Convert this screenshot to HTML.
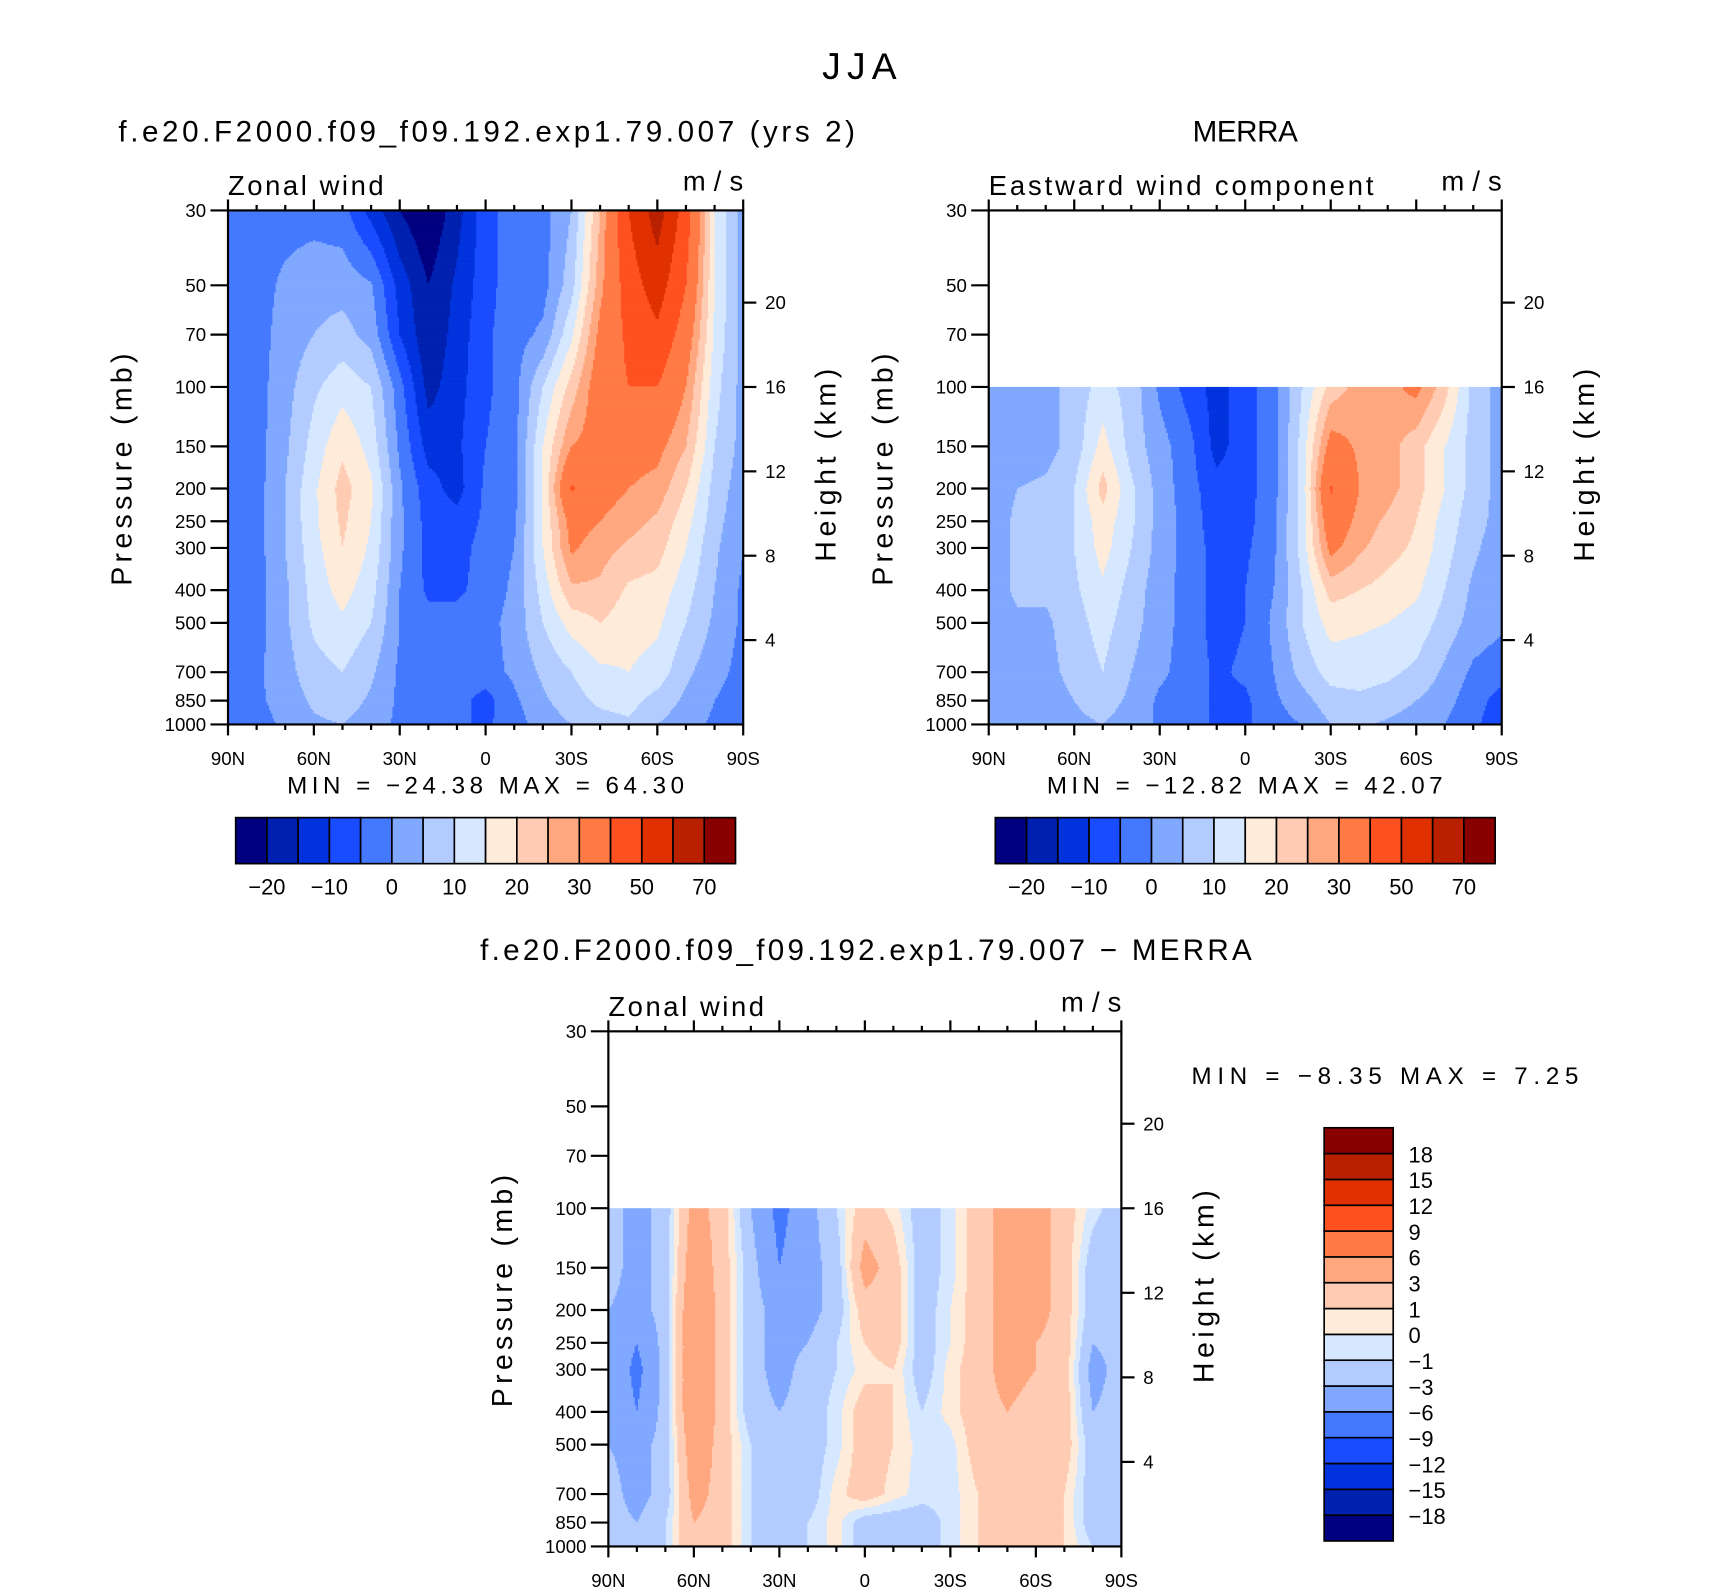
<!DOCTYPE html>
<html><head><meta charset="utf-8">
<style>
html,body{margin:0;padding:0;background:#fff;}
svg{display:block;font-family:"Liberation Sans",sans-serif;}
text{fill:#000;}
</style></head>
<body>
<svg id="fig" width="1710" height="1587" viewBox="0 0 1560 1448" preserveAspectRatio="none" xmlns="http://www.w3.org/2000/svg">
<text x="750" y="72" font-size="34" textLength="68" lengthAdjust="spacing">JJA</text>
<g id="p1"></g>
<g id="p2"></g>
<g id="p3"></g>
</svg>
<script>
// ---- shared axes data ----
const lats = [90,80,70,60,50,40,30,20,10,0,-10,-20,-30,-40,-50,-60,-70,-80,-90];
const presAll = [30,50,70,100,150,200,250,300,400,500,700,850,1000];
const presLow = [100,150,200,250,300,400,500,700,850,1000];
const pTicks = [30,50,70,100,150,200,250,300,400,500,700,850,1000];
const latTickLabels = ["90N","60N","30N","0","30S","60S","90S"];
const hTicks = [4,8,12,16,20];
const levelsMain = [-20,-15,-10,-5,0,5,10,15,20,25,30,40,50,60,70];
const levelsMainLabels = ["−20","−10","0","10","20","30","50","70"];
const levelsDiff = [-18,-15,-12,-9,-6,-3,-1,0,1,3,6,9,12,15,18];
const levelsDiffLabels = ["−18","−15","−12","−9","−6","−3","−1","0","1","3","6","9","12","15","18"];
const colors = ["#000080","#0020b0","#0033dd","#1a4cff","#4479ff","#80a8ff","#b3ccff","#d6e8ff","#ffebd9","#ffcbb3","#ffa880","#ff7a45","#ff5020","#e03000","#b82000","#880000"];

// ---- model zonal wind (rows = presAll, cols = lats 90N..90S) ----
const model = [
[-2,-2,-2,-2,-3,-12,-20,-25,-17,-7,-2,-2,5,25,50,65,45,15,3],
[-2,-2,1,3,3,0.5,-12,-20,-14,-7,-2,-2,8,28,45,55,40,15,3],
[-2,-2,2,5,7,3,-10,-19,-13,-6,-2,1,14,32,42,48,35,14,3],
[-2,-2,3,9,13,10,-3,-17,-12,-6,-2,10,22,35,40,40,30,12,3],
[-2,-2,4,12,19,13,-1,-12,-11,-5,-2,15,30,33,33,32,25,10,3],
[-2,-2,5,14,22,16,1,-8,-12,-4,-2,15,41,33,30,28,20,8,2],
[-2,-2,5,14,21,15,1,-7,-8,-4,-1,15,33,30,27,24,17,7,1],
[-2,-2,5,13,20,14,1,-7,-7,-3,0,15,31,27,24,22,15,6,0],
[-2,-2,4,12,17,12,0,-6,-6,-3,1,12,24,24,19,18,12,5,-1],
[-2,-2,4,11,14,10,0,-3,-3,-2,2,10,17,20,17,16,10,4,-1],
[-2,-1,3,8,10,6,-1,-2,-2,-2,1,6,10,14,15,13,6,2,-2],
[-2,-1,2,6,8,4,-1,-2,-3,-7,-1,4,8,11,12,8,4,0,-3],
[-2,-2,1,4,5,2,-1,-3,-4,-6,-2,2,5,8,9,5,2,-1,-4]
];
// ---- MERRA (rows = presLow) ----
const merra = [
[2,2,3,7,12,8,-1,-7,-12,-7,-2,10,22,27,28,32,22,8,3],
[2,2,3,7,17,8,2,-3,-12,-7,-2,12,33,29,27,22,15,8,3],
[2,5,6,10,22,11,3,-3,-8,-7,-2,12,41,30,27,22,15,8,3],
[2,6,6,10,18,11,3,-2,-8,-7,-1,12,36,28,24,20,13,7,3],
[2,6,6,10,17,10,3,-2,-7,-6,-1,12,32,26,22,19,12,6,2],
[2,6,6,9,14,8,2,-2,-7,-5,0,10,22,20,18,16,10,4,2],
[2,4,4,8,12,7,2,-2,-7,-5,1,10,17,16,15,13,8,3,1],
[2,3,3,7,10,5,1,-2,-6,-4,0,7,12,12,11,9,4,-1,-3],
[2,2,2,5,7,4,-1,-2,-6,-6,-1,3,8,9,8,5,2,-3,-7],
[1,1,2,4,5,3,-1,-2,-6,-6,-2,0,5,6,4,2,0,-4,-8]
];
// ---- difference (rows = presLow) ----
const diff = [
[-2,-4,-2,4,2,-3,-7,-4,-1,2,0.5,-2,-0.5,2,4,4,2,-0.5,-2],
[-2,-4,-2,5,2,-2,-6,-4,-2,4,2,-2,-0.5,2,4,4,2,-2,-2],
[-3,-4,-2,6,2,-2,-4,-4,-2,2,2,-2,0,2,4,4,2,-2,-2],
[-3,-6,-2,6,2,-2,-4,-3,-1,1,2,-2,0,2,4,3,2,-3,-2],
[-3,-7,-2,6,2,-2,-4,-2,-1,0.5,1,-2,0.5,2,4,3,2,-4,-2],
[-3,-6,-2,6,2,-2,-3,-2,-0.5,2,1,-1,0.5,2,3,2,2,-3,-2],
[-3,-4,-2,5,2,-1,-3,-2,-0.5,2,1,-0.5,-0.5,2,3,2,2,-2,-2],
[-2,-4,-2,4,2,-1,-2,-2,0.5,2,0.5,-0.5,-0.5,1,2,2,1,-2,-2],
[-2,-3,-1,3,2,-1,-2,-1,0.5,-2,-2,-2,-0.5,1,2,2,1,-2,-3],
[-2,-2,-1,3,2,-1,-2,-1,0.5,-2,-1,-2,-0.5,1,2,2,1,-1,-3]
];

const NS="http://www.w3.org/2000/svg";
function mk(tag,attrs,parent,txt){const e=document.createElementNS(NS,tag);for(const k in attrs)e.setAttribute(k,attrs[k]);if(txt!==undefined)e.textContent=txt;parent.appendChild(e);return e;}
const LOGR=Math.log10(1000/30);

function colorIndex(v,levels){let i=0;while(i<levels.length&&v>=levels[i])i++;return i;}
function sample(pres,vals,lat,p){
  let r=0;while(r<pres.length-2&&p>pres[r+1])r++;
  let fr=(Math.log(p)-Math.log(pres[r]))/(Math.log(pres[r+1])-Math.log(pres[r]));fr=Math.max(0,Math.min(1,fr));
  let ci=Math.max(0,Math.min(18,(90-lat)/10));let c=Math.min(17,Math.floor(ci));let fc=ci-c;
  const a=vals[r][c]*(1-fc)+vals[r][c+1]*fc;
  const b=vals[r+1][c]*(1-fc)+vals[r+1][c+1]*fc;
  return a*(1-fr)+b*fr;
}

function panel(g,o){
  const {x0,y0,w,h}=o;
  const yP=p=>y0+h*Math.log10(p/30)/LOGR;
  const xL=lat=>x0+w*(90-lat)/180;
  const cells=mk('g',{},g);
  
  
  const step=1.5;
  const n=Math.ceil(w/step);
  const yStart=yP(o.pres[0]);
  for(let y=yStart;y<y0+h;y+=step){
    const p=30*Math.pow(10,((y+step/2)-y0)/h*LOGR);
    const hh=Math.min(step+0.3,y0+h-y);
    let runStart=x0,runCol=-1;
    for(let k=0;k<=n;k++){
      const x=Math.min(x0+w,x0+k*step);
      let ci=-2;
      if(k<n){const lat=90-(x+step/2-x0)/w*180;ci=colorIndex(sample(o.pres,o.vals,lat,p),o.levels);}
      if(ci!==runCol){
        if(runCol>=0){
          const r=mk('rect',{x:runStart,y:y,width:Math.min(x-runStart+0.3,x0+w-runStart),height:hh,fill:colors[runCol]},cells);
          
          
        }
        runStart=x;runCol=ci;
      }
    }
  }
  const fr=mk('rect',{x:x0,y:y0,width:w,height:h,fill:'none',stroke:'#000','stroke-width':2},g);
  
  
  pTicks.forEach(p=>{
    const y=yP(p);
    mk('line',{x1:x0-16,x2:x0,y1:y,y2:y,stroke:'#000','stroke-width':2},g);
    const t=mk('text',{x:x0-20,y:y+6,'font-size':17,'text-anchor':'end'},g,String(p));
    
    
  });
  for(let lat=90;lat>=-90;lat-=10){
    const x=xL(lat);const maj=lat%30===0;const L=maj?10:5;
    mk('line',{x1:x,x2:x,y1:y0,y2:y0-L,stroke:'#000','stroke-width':2},g);
    mk('line',{x1:x,x2:x,y1:y0+h,y2:y0+h+L,stroke:'#000','stroke-width':2},g);
  }
  latTickLabels.forEach((s,i)=>{
    const t=mk('text',{x:xL(90-30*i),y:y0+h+37,'font-size':17,'text-anchor':'middle'},g,s);
    
    
  });
  hTicks.forEach(z=>{
    const p=1000*Math.exp(-z/6.95);const y=yP(p);
    mk('line',{x1:x0+w,x2:x0+w+12,y1:y,y2:y,stroke:'#000','stroke-width':2},g);
    const t=mk('text',{x:x0+w+20,y:y+6,'font-size':17},g,String(z));
    
    
  });
  let t=mk('text',{transform:`translate(${x0-88},${y0+h/2+2}) rotate(-90)`,'font-size':26,'text-anchor':'middle',textLength:212,lengthAdjust:'spacing'},g,'Pressure  (mb)');
  
  t=mk('text',{transform:`translate(${x0+w+84},${y0+h/2-2}) rotate(-90)`,'font-size':26,'text-anchor':'middle',textLength:176,lengthAdjust:'spacing'},g,'Height  (km)');
  
  t=mk('text',{x:x0,y:y0-14,'font-size':25,textLength:o.leftLen,lengthAdjust:'spacing'},g,o.left);
  
  t=mk('text',{x:x0+w-55,y:y0-18,'font-size':25,textLength:55,lengthAdjust:'spacing'},g,'m/s');
  
  t=mk('text',{x:o.tx,y:o.ty,'font-size':27,textLength:o.tLen,lengthAdjust:'spacing'},g,o.title);
  
  t=mk('text',{x:o.mx,y:o.my,'font-size':22,'xml:space':'preserve',textLength:o.mLen,lengthAdjust:'spacing'},g,o.minmax);
  
}

function hbar(g,x,y,w,h){
  const bw=w/16;
  for(let i=0;i<16;i++){
    const r=mk('rect',{x:x+i*bw,y:y,width:bw,height:h,fill:colors[i],stroke:'#000','stroke-width':1.5},g);
    
    
  }
  levelsMainLabels.forEach((s,k)=>{
    const t=mk('text',{x:x+(2*k+1)*bw,y:y+h+28,'font-size':20,'text-anchor':'middle'},g,s);
    
    
  });
}
function vbar(g,x,y,w,h){
  const bh=h/16;
  for(let i=0;i<16;i++){
    const r=mk('rect',{x:x,y:y+(15-i)*bh,width:w,height:bh,fill:colors[i],stroke:'#000','stroke-width':1.5},g);
    
    
  }
  levelsDiffLabels.forEach((s,k)=>{
    const t=mk('text',{x:x+w+14,y:y+(15-k)*bh+8,'font-size':20},g,s);
    
    
  });
}

const g1=document.getElementById('p1'),g2=document.getElementById('p2'),g3=document.getElementById('p3');
panel(g1,{x0:208,y0:192,w:470,h:469,pres:presAll,vals:model,levels:levelsMain,left:'Zonal wind',leftLen:142,
  title:'f.e20.F2000.f09_f09.192.exp1.79.007 (yrs 2)',tx:108,ty:129,tLen:672,minmax:'MIN =  −24.38   MAX =   64.30',mx:262,my:724,mLen:362});
panel(g2,{x0:902,y0:192,w:468,h:469,pres:presLow,vals:merra,levels:levelsMain,left:'Eastward wind component',leftLen:351,
  title:'MERRA',tx:1088,ty:129,tLen:96,minmax:'MIN =  −12.82   MAX =   42.07',mx:955,my:724,mLen:361});
panel(g3,{x0:555,y0:941,w:468,h:470,pres:presLow,vals:diff,levels:levelsDiff,left:'Zonal wind',leftLen:142,
  title:'f.e20.F2000.f09_f09.192.exp1.79.007 − MERRA',tx:438,ty:876,tLen:704,minmax:'MIN =   −8.35   MAX =    7.25',mx:1087,my:989,mLen:353});
hbar(g1,215,746,456,42);
hbar(g2,908,746,456,42);
vbar(g3,1208,1029,63,377);
</script>
</body></html>
